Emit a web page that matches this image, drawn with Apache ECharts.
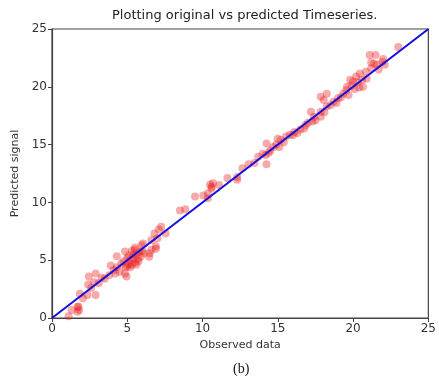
<!DOCTYPE html>
<html>
<head>
<meta charset="utf-8">
<script src="https://cdn.jsdelivr.net/npm/echarts@6/dist/echarts.min.js"></script>
<style>
  html, body { margin: 0; padding: 0; background: #fff; }
  #chart { width: 439px; height: 378px; }
</style>
</head>
<body>
<div id="chart"></div>
<script>
// Observed values and the model's predictions for the same time steps
const observed = [
  1.1, 1.3, 1.7, 1.8, 1.7, 1.75, 1.85, 2.05, 2.35, 2.9, 2.45, 2.4, 2.9, 2.8, 3.1, 3.3, 2.6, 3.5, 3.8,
  3.9, 4.1, 4.3, 4.3, 4.2, 4.5, 4.85, 4.95, 4.75, 4.85, 5.0, 5.1, 5.2, 5.3, 5.1, 5.4, 5.5, 5.6, 5.3, 5.7,
  5.8, 5.5, 5.2, 5.9, 6.0, 5.4, 5.6, 5.0, 4.9, 5.75, 6.1, 5.95, 6.45, 6.6, 6.9, 6.5, 6.05, 6.6, 7.0, 6.8,
  7.1, 7.25, 7.55, 6.9, 5.5, 4.6,
  8.5, 8.85, 9.5, 10.05, 10.35, 10.35, 10.5, 10.6, 10.7, 10.6, 11.1, 11.65, 12.3, 12.3, 12.65, 13.05,
  13.45, 14.25, 14.25, 14.2,
  13.7, 14.0, 14.5, 14.7, 14.4, 15.0, 15.2, 14.9, 15.1, 15.55, 15.8, 15.4, 16.1, 16.3, 16.0, 16.75,
  16.85, 16.5, 17.3, 17.5, 17.2, 17.85, 17.0, 18.1,
  17.4, 17.85, 18.25, 17.85, 18.25, 18.05, 18.7, 19.0, 19.35, 19.55, 19.8, 20.0, 20.2, 20.45, 20.65,
  20.4, 20.85, 21.2, 21.4, 21.2, 21.5, 21.1, 21.6, 21.95, 22.0, 23.0, 18.5, 19.2, 19.7, 20.1, 20.3,
  19.9, 20.6, 18.9, 19.6, 20.9, 21.7, 22.1
];
const predicted = [
  0.15, 0.7, 0.95, 0.7, 0.55, 1.0, 2.1, 1.7, 2.0, 2.0, 3.6, 2.9, 3.85, 3.1, 3.0, 3.5, 2.6, 3.4, 3.7,
  4.55, 4.15, 4.4, 5.35, 3.85, 4.0, 3.85, 3.6, 4.9, 5.75, 4.5, 4.7, 5.0, 4.6, 5.4, 5.2, 4.8, 5.5, 5.8, 5.1,
  5.7, 5.9, 4.4, 5.3, 5.8, 5.5, 4.6, 5.2, 4.4, 4.9, 5.6, 6.3, 5.3, 5.9, 6.2, 5.6, 6.45, 6.75, 6.9, 7.3,
  7.65, 7.9, 7.3, 6.0, 6.1, 4.7,
  9.3, 9.4, 10.5, 10.6, 10.8, 10.35, 11.55, 11.35, 11.65, 11.2, 11.5, 12.1, 12.2, 11.95, 12.95, 13.3,
  13.4, 13.3, 15.1, 14.1,
  13.95, 14.2, 14.5, 14.8, 14.3, 15.5, 15.4, 15.0, 14.8, 15.7, 15.85, 15.2, 16.1, 16.0, 15.8, 16.4,
  16.7, 16.3, 17.0, 17.1, 17.85, 17.4, 16.9, 17.8,
  17.4, 17.85, 18.3, 19.15, 19.4, 18.85, 18.7, 19.0, 19.4, 19.7, 20.6, 20.45, 20.9, 21.15, 20.0,
  19.95, 21.3, 21.6, 22.0, 22.1, 22.75, 22.75, 21.9, 22.15, 22.4, 23.45, 18.4, 19.1, 19.3, 19.8, 20.4,
  20.1, 20.6, 18.6, 20.0, 20.7, 21.5, 21.9
];
// Ideal prediction line y = x
const idealLine = [[0, 0], [25, 25]];
const axisTicks = [0, 5, 10, 15, 20, 25];

const points = observed.map((x, i) => [x, predicted[i]]);

const chart = echarts.init(document.getElementById('chart'), null, { renderer: 'canvas' });
const labelStyle = { color: '#333', fontSize: 12, fontFamily: 'DejaVu Sans' };
const axisCommon = {
  type: 'value',
  min: axisTicks[0],
  max: axisTicks[axisTicks.length - 1],
  interval: 5,
  splitLine: { show: false },
  axisLine: { show: true, lineStyle: { color: '#444', width: 1.2 } },
  axisTick: { show: true, inside: false, length: 4, lineStyle: { color: '#444', width: 1 } },
  axisLabel: Object.assign({ margin: 5 }, labelStyle),
  nameLocation: 'middle',
  nameTextStyle: { color: '#333', fontSize: 11, fontFamily: 'DejaVu Sans' }
};

chart.setOption({
  animation: false,
  backgroundColor: '#fff',
  title: [
    {
      text: 'Plotting original vs predicted Timeseries.',
      left: 107, top: 4,
      textStyle: { color: '#222', fontSize: 13, fontWeight: 'normal', fontFamily: 'DejaVu Sans' }
    },
    {
      text: '(b)',
      left: 228, top: 357,
      textStyle: { color: '#111', fontSize: 14, fontWeight: 'normal', fontFamily: 'Liberation Serif' }
    }
  ],
  grid: {
    left: 52, right: 2, top: 29, bottom: 60,
    show: true, borderColor: '#444', borderWidth: 1.2, backgroundColor: '#fff'
  },
  xAxis: Object.assign({}, axisCommon, {
    name: 'Observed data', nameGap: 21
  }),
  yAxis: Object.assign({}, axisCommon, {
    name: 'Predicted signal', nameGap: 28, nameRotate: 90
  }),
  series: [
    {
      type: 'scatter',
      data: points,
      symbol: 'circle',
      symbolSize: 8,
      itemStyle: { color: 'rgba(232, 20, 20, 0.45)' },
      z: 2
    },
    {
      type: 'line',
      data: idealLine,
      symbol: 'none',
      lineStyle: { color: '#1010e0', width: 2 },
      z: 3
    }
  ]
});
</script>
</body>
</html>
